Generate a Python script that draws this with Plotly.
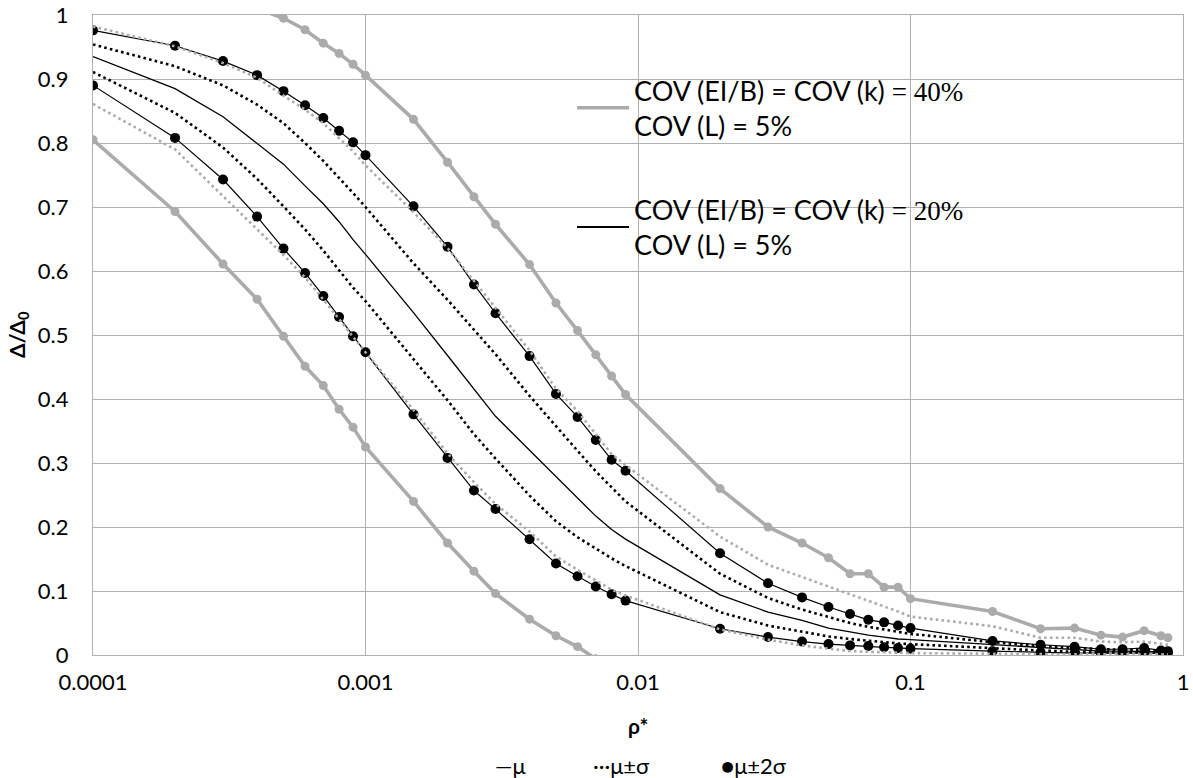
import plotly.graph_objects as go

# ---------------- data ----------------
rho = [0.0001, 0.0002, 0.0003, 0.0004, 0.0005, 0.0006, 0.0007, 0.0008, 0.0009, 0.001,
       0.0015, 0.002, 0.0025, 0.003, 0.004, 0.005, 0.006, 0.007, 0.008, 0.009,
       0.02, 0.03, 0.04, 0.05, 0.06, 0.07, 0.08, 0.09, 0.1,
       0.2, 0.3, 0.4, 0.5, 0.6, 0.72, 0.83, 0.88]

# COV(EI/B) = COV(k) = 20%
mu20 = [0.935, 0.885, 0.841, 0.800, 0.767, 0.733, 0.705, 0.677, 0.649, 0.626,
        0.535, 0.468, 0.416, 0.373, 0.320, 0.279, 0.245, 0.217, 0.196, 0.181,
        0.094, 0.067, 0.054, 0.042, 0.036, 0.031, 0.028, 0.025, 0.024,
        0.016, 0.011, 0.008, 0.006, 0.006, 0.006, 0.005, 0.005]
mu20_p1 = [0.954, 0.920, 0.890, 0.860, 0.831, 0.800, 0.772, 0.746, 0.722, 0.700,
           0.612, 0.555, 0.508, 0.470, 0.405, 0.357, 0.319, 0.287, 0.262, 0.240,
           0.127, 0.089, 0.071, 0.059, 0.050, 0.044, 0.040, 0.036, 0.033,
           0.020, 0.014, 0.011, 0.009, 0.008, 0.008, 0.007, 0.007]
mu20_m1 = [0.911, 0.847, 0.793, 0.744, 0.701, 0.665, 0.632, 0.602, 0.574, 0.553,
           0.462, 0.398, 0.345, 0.307, 0.249, 0.209, 0.184, 0.166, 0.151, 0.139,
           0.067, 0.046, 0.036, 0.029, 0.025, 0.022, 0.020, 0.018, 0.017,
           0.010, 0.007, 0.005, 0.005, 0.004, 0.004, 0.004, 0.004]
mu20_p2 = [0.976, 0.952, 0.928, 0.906, 0.881, 0.859, 0.839, 0.819, 0.801, 0.781,
           0.701, 0.638, 0.579, 0.534, 0.467, 0.408, 0.372, 0.336, 0.305, 0.288,
           0.159, 0.112, 0.090, 0.075, 0.064, 0.055, 0.051, 0.046, 0.042,
           0.022, 0.016, 0.013, 0.009, 0.009, 0.011, 0.007, 0.006]
mu20_m2 = [0.890, 0.808, 0.743, 0.685, 0.635, 0.597, 0.561, 0.528, 0.498, 0.473,
           0.376, 0.308, 0.257, 0.228, 0.181, 0.143, 0.123, 0.107, 0.095, 0.085,
           0.041, 0.028, 0.021, 0.017, 0.015, 0.014, 0.012, 0.011, 0.010,
           0.006, 0.004, 0.003, 0.003, 0.003, 0.003, 0.003, 0.003]

# COV(EI/B) = COV(k) = 40%
mu40_p1 = [0.982, 0.951, 0.925, 0.902, 0.874, 0.852, 0.831, 0.808, 0.787, 0.765,
           0.692, 0.636, 0.585, 0.543, 0.476, 0.416, 0.381, 0.345, 0.314, 0.297,
           0.185, 0.141, 0.122, 0.108, 0.095, 0.085, 0.076, 0.068, 0.060,
           0.045, 0.027, 0.027, 0.021, 0.020, 0.021, 0.018, 0.016]
mu40_m1 = [0.861, 0.790, 0.717, 0.665, 0.625, 0.590, 0.556, 0.525, 0.497, 0.473,
           0.383, 0.315, 0.270, 0.236, 0.193, 0.154, 0.133, 0.117, 0.102, 0.093,
           0.040, 0.024, 0.015, 0.010, 0.006, 0.005, 0.004, 0.003, 0.003,
           0.002, 0.001, 0.001, 0.001, 0.001, 0.001, 0.001, 0.001]
mu40_p2 = [None, None, None, 1.010, 0.995, 0.977, 0.956, 0.940, 0.923, 0.906,
           0.837, 0.770, 0.716, 0.673, 0.610, 0.550, 0.507, 0.469, 0.436, 0.407,
           0.260, 0.200, 0.175, 0.152, 0.127, 0.127, 0.106, 0.106, 0.088,
           0.068, 0.041, 0.042, 0.031, 0.028, 0.038, 0.030, 0.027]
mu40_m2 = [0.805, 0.693, 0.611, 0.556, 0.498, 0.451, 0.421, 0.384, 0.356, 0.325,
           0.240, 0.175, 0.131, 0.096, 0.056, 0.030, 0.013, -0.006, None, None,
           None, None, None, None, None, None, None, None, None,
           None, None, None, None, None, None, None, None]

x_ticks = [0.0001, 0.001, 0.01, 0.1, 1]
x_ticktext = ["0.0001", "0.001", "0.01", "0.1", "1"]

legend_40 = ("COV (EI/B) = COV (k) <span style='font-family:Liberation Serif'>= 40%</span>"
             "<br>COV (L) = 5%")
legend_20 = ("COV (EI/B) = COV (k) <span style='font-family:Liberation Serif'>= 20%</span>"
             "<br>COV (L) = 5%")

x_title = "<b>ρ*</b>"
y_title = "<b>Δ/Δ<sub>0</sub></b>"
key_labels = ["—μ", "···μ±σ", "●μ±2σ"]

# ---------------- styles ----------------
BLACK = "#000000"
GRAY = "#ababab"
GRID = "#b0b0b0"
FONT = "Lato"

fig = go.Figure()

# 20% series (black)
fig.add_trace(go.Scatter(x=rho, y=mu20, mode="lines",
                         line=dict(color=BLACK, width=1.3), showlegend=False))
for ys in (mu20_p1, mu20_m1):
    fig.add_trace(go.Scatter(x=rho, y=ys, mode="lines",
                             line=dict(color=BLACK, width=2.6, dash="2.6px,3.2px"),
                             showlegend=False))
for ys in (mu20_p2, mu20_m2):
    fig.add_trace(go.Scatter(x=rho, y=ys, mode="lines+markers",
                             line=dict(color=BLACK, width=1.2),
                             marker=dict(symbol="circle", size=10, color=BLACK),
                             showlegend=False))

# 40% series (gray)
for ys in (mu40_p1, mu40_m1):
    fig.add_trace(go.Scatter(x=rho, y=ys, mode="lines",
                             line=dict(color=GRAY, width=2.6, dash="2.6px,3.2px"),
                             showlegend=False))
for ys in (mu40_p2, mu40_m2):
    fig.add_trace(go.Scatter(x=rho, y=ys, mode="lines+markers",
                             line=dict(color=GRAY, width=3.6),
                             marker=dict(symbol="circle", size=9, color=GRAY),
                             showlegend=False, connectgaps=False))

# legend entries
fig.add_trace(go.Scatter(x=[None], y=[None], mode="lines", name=legend_40,
                         legendgroup="g40",
                         line=dict(color=GRAY, width=3.6), showlegend=True))
fig.add_trace(go.Scatter(x=[None], y=[None], mode="lines", name=legend_20,
                         legendgroup="g20",
                         line=dict(color=BLACK, width=2.2), showlegend=True))

fig.update_layout(
    width=1193, height=778,
    margin=dict(l=93, r=10, t=15, b=123, autoexpand=False),
    paper_bgcolor="white", plot_bgcolor="white",
    font=dict(family=FONT, size=22, color="#000000"),
    showlegend=True,
    legend=dict(x=0.4395, y=0.92, xanchor="left", yanchor="top",
                bgcolor="rgba(0,0,0,0)", font=dict(size=27, family=FONT),
                itemwidth=52, tracegroupgap=46, traceorder="grouped",
                valign="middle"),
    xaxis=dict(type="log", range=[-4, 0], tickvals=x_ticks, ticktext=x_ticktext,
               automargin=False, ticklabeloverflow="allow",
               showgrid=True, gridcolor=GRID, gridwidth=1.2,
               showline=True, linecolor=GRID, linewidth=1.2, mirror=True,
               ticks="", ticklabelstandoff=7, zeroline=False,
               tickfont=dict(size=22, family=FONT)),
    yaxis=dict(range=[0, 1], dtick=0.1, tick0=0, automargin=False,
               ticklabeloverflow="allow",
               showgrid=True, gridcolor=GRID, gridwidth=1.2,
               showline=True, linecolor=GRID, linewidth=1.2, mirror=True,
               ticks="", ticklabelstandoff=19, zeroline=False,
               tickfont=dict(size=22, family=FONT)),
)

# axis titles
fig.add_annotation(text=x_title, x=0.5, y=-0.11, xref="paper", yref="paper",
                   showarrow=False, xanchor="center", yanchor="middle",
                   font=dict(size=21, family=FONT, color="#000000"))
fig.add_annotation(text=y_title, x=-0.0688, y=0.5, xref="paper", yref="paper",
                   showarrow=False, xanchor="center", yanchor="middle", textangle=-90,
                   font=dict(size=21, family=FONT, color="#000000"))

# bottom series-style key
key_pos = [0.383, 0.485, 0.606]
for txt, xp in zip(key_labels, key_pos):
    fig.add_annotation(text=txt, x=xp, y=-0.172, xref="paper", yref="paper",
                       showarrow=False, xanchor="center", yanchor="middle",
                       font=dict(size=22, family=FONT, color="#000000"))

fig.write_html("out.html", config={"displayModeBar": False},
               post_script="document.body.style.margin='0px';")
